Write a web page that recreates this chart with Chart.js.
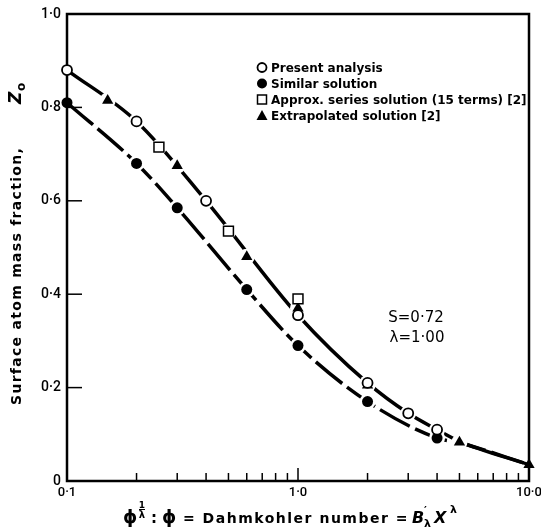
<!DOCTYPE html>
<html>
<head>
<meta charset="utf-8">
<script src="https://cdn.jsdelivr.net/npm/chart.js@4.4.0/dist/chart.umd.min.js"></script>
<style>
    html, body { margin: 0; padding: 0; background: #fff; }
</style>
</head>
<body>
<canvas id="grafico" width="541" height="530"></canvas>
<script>
// Datos
const present_x = [0.1, 0.2, 0.4, 1.0, 2.0, 3.0, 4.0];
const present_z = [0.88, 0.77, 0.60, 0.355, 0.21, 0.145, 0.11];

const similar_x = [0.1, 0.2, 0.3, 0.6, 1.0, 2.0, 4.0];
const similar_z = [0.81, 0.68, 0.585, 0.41, 0.29, 0.17, 0.092];

const series_x = [0.25, 0.5, 1.0];
const series_z = [0.715, 0.535, 0.39];

const extrap_x = [0.15, 0.3, 0.6, 1.0, 2.0, 5.0, 10.0];
const extrap_z = [0.815, 0.675, 0.48, 0.37, 0.205, 0.083, 0.035];

// curvas dibujadas
const upper_x = [0.1, 0.2, 0.4, 1.0, 2.0, 3.0, 4.0, 5.0, 10.0];
const upper_z = [0.88, 0.77, 0.60, 0.355, 0.21, 0.145, 0.11, 0.085, 0.035];
const lower_x = [0.1, 0.2, 0.3, 0.6, 1.0, 2.0, 4.0, 5.0, 10.0];
const lower_z = [0.81, 0.68, 0.585, 0.41, 0.29, 0.17, 0.092, 0.082, 0.035];

const x_tick_values = [0.1, 0.2, 0.3, 0.4, 0.5, 0.6, 0.7, 0.8, 0.9, 1, 2, 3, 4, 5, 6, 7, 8, 9, 10];
const x_tick_labels = ['0·1', '', '', '', '', '', '', '', '', '1·0', '', '', '', '', '', '', '', '', '10·0'];
const y_tick_labels = ['0', '0·2', '0·4', '0·6', '0·8', '1·0'];

const legend_labels = ['Present analysis', 'Similar solution', 'Approx. series solution (15 terms)', 'Extrapolated solution'];

const FUENTE = '"DejaVu Sans", sans-serif';
const FUENTE_EJES = 'Roboto, sans-serif';

function puntos(xs, zs) {
    return xs.map((x, i) => ({ x: x, y: zs[i] }));
}

// halos blancos para cortar la linea alrededor de los simbolos
let halo = [].concat(puntos(present_x, present_z), puntos(similar_x, similar_z),
    puntos(series_x, series_z), puntos(extrap_x, extrap_z)).filter(p => p.x > 0.1 && p.x < 10);

function linea(ctx, x1, y1, x2, y2) {
    ctx.beginPath();
    ctx.moveTo(x1, y1);
    ctx.lineTo(x2, y2);
    ctx.stroke();
}

function textoAjustado(ctx, t, x, y, font, ancho) {
    ctx.font = font;
    ctx.letterSpacing = '0px';
    let w = ctx.measureText(t).width;
    let extra = (ancho - w) / t.length;
    ctx.letterSpacing = extra + 'px';
    ctx.fillText(t, x, y);
    ctx.letterSpacing = '0px';
}

const marcoPlugin = {
    id: 'marco',
    beforeDatasetsDraw(chart) {
        const { ctx, chartArea: a, scales } = chart;
        ctx.save();
        ctx.strokeStyle = '#000';
        ctx.lineWidth = 2.5;
        ctx.strokeRect(a.left, a.top, a.right - a.left, a.bottom - a.top);
        ctx.lineWidth = 1.5;
        x_tick_values.forEach(v => {
            if (v <= 0.1 || v >= 10) return;
            let px = scales.x.getPixelForValue(v);
            let largo = (v === 1) ? 13 : 8;
            linea(ctx, px, a.bottom, px, a.bottom - largo);
        });
        [0.2, 0.4, 0.6, 0.8].forEach(v => {
            let py = scales.y.getPixelForValue(v);
            linea(ctx, a.left, py, a.left + 15, py);
        });
        ctx.restore();
    },
    afterDraw(chart) {
        const ctx = chart.ctx;
        ctx.save();
        ctx.fillStyle = '#000';
        ctx.strokeStyle = '#000';
        ctx.textBaseline = 'alphabetic';
        ctx.textAlign = 'left';

        // Leyenda
        let filas = [72, 88, 104, 120];
        let mx = 262, tx = 271;
        // circulo abierto
        ctx.lineWidth = 1.8;
        ctx.beginPath(); ctx.arc(mx, filas[0] - 4.5, 4.5, 0, Math.PI * 2); ctx.stroke();
        // circulo lleno
        ctx.beginPath(); ctx.arc(mx, filas[1] - 4.5, 5, 0, Math.PI * 2); ctx.fill();
        // cuadro
        ctx.lineWidth = 1.5;
        ctx.strokeRect(mx - 4.5, filas[2] - 9, 9, 9);
        // triangulo
        ctx.beginPath();
        ctx.moveTo(mx, filas[3] - 10); ctx.lineTo(mx + 5.5, filas[3]); ctx.lineTo(mx - 5.5, filas[3]);
        ctx.closePath(); ctx.fill();

        ctx.font = 'bold 12px ' + FUENTE;
        legend_labels.forEach((t, i) => {
            ctx.fillText(t, tx, filas[i]);
            if (i >= 2) {
                let w = ctx.measureText(t).width;
                ctx.fillText(' [2]', tx + w, filas[i]);
            }
        });

        // Parametros
        ctx.font = '15px ' + FUENTE;
        ctx.textAlign = 'center';
        ctx.fillText('S=0·72', 416, 322);
        ctx.fillText('λ=1·00', 417, 342);

        // Titulo eje x
        ctx.textAlign = 'left';
        let by = 523;
        ctx.font = 'bold 18px ' + FUENTE;
        ctx.fillText('ϕ', 123, by);
        ctx.font = 'bold 9px ' + FUENTE;
        ctx.textAlign = 'center';
        ctx.fillText('1', 142, by - 15);
        ctx.lineWidth = 1;
        linea(ctx, 139, by - 13.5, 145, by - 13.5);
        ctx.font = 'bold 10px ' + FUENTE;
        ctx.fillText('λ', 142, by - 5);
        ctx.textAlign = 'left';
        ctx.font = 'bold 15px ' + FUENTE;
        ctx.fillText(':', 151, by);
        ctx.font = 'bold 18px ' + FUENTE;
        ctx.fillText('ϕ', 162, by);
        textoAjustado(ctx, '= Dahmkohler number =', 183, by, 'bold 14px ' + FUENTE, 226);
        ctx.font = 'italic bold 16px ' + FUENTE;
        ctx.fillText('B', 412, by);
        ctx.font = 'bold 11px ' + FUENTE;
        ctx.fillText('′', 424, by - 9);
        ctx.fillText('λ', 424, by + 4);
        ctx.font = 'italic bold 16px ' + FUENTE;
        ctx.fillText('X', 434, by);
        ctx.font = 'bold 11px ' + FUENTE;
        ctx.fillText('λ', 450, by - 10);

        // Titulo eje y
        ctx.translate(21, 0);
        ctx.rotate(-Math.PI / 2);
        textoAjustado(ctx, 'Surface atom mass fraction,', -405, 0, 'bold 14px ' + FUENTE, 258);
        ctx.font = 'italic bold 17px ' + FUENTE;
        ctx.fillText('Z', -104, 0);
        ctx.font = 'bold 12px ' + FUENTE;
        ctx.fillText('o', -91, 4);
        ctx.restore();
    }
};

new Chart(document.getElementById('grafico'), {
    type: 'scatter',
    data: {
        datasets: [
            {
                label: legend_labels[0], data: puntos(present_x, present_z), order: 0,
                pointStyle: 'circle', pointRadius: 5, pointBackgroundColor: '#fff',
                pointBorderColor: '#000', pointBorderWidth: 1.8, clip: false
            },
            {
                label: legend_labels[1], data: puntos(similar_x, similar_z), order: 0,
                pointStyle: 'circle', pointRadius: 5.5, pointBackgroundColor: '#000',
                pointBorderColor: '#000', pointBorderWidth: 0, clip: false
            },
            {
                label: legend_labels[2], data: puntos(series_x, series_z), order: 0,
                pointStyle: 'rect', pointRadius: 7, pointBackgroundColor: '#fff',
                pointBorderColor: '#000', pointBorderWidth: 1.5, clip: false
            },
            {
                label: legend_labels[3], data: puntos(extrap_x, extrap_z), order: 0,
                pointStyle: 'triangle', pointRadius: 6.5, pointBackgroundColor: '#000',
                pointBorderColor: '#000', pointBorderWidth: 0, clip: false
            },
            {
                label: 'halo', data: halo, order: 1,
                pointRadius: 8, pointBackgroundColor: '#fff', pointBorderWidth: 0, clip: false
            },
            {
                label: 'upper', data: puntos(upper_x, upper_z), order: 2, showLine: true,
                borderColor: '#000', borderWidth: 3.5, pointRadius: 0,
                cubicInterpolationMode: 'monotone', clip: false
            },
            {
                label: 'lower', data: puntos(lower_x, lower_z), order: 2, showLine: true,
                borderColor: '#000', borderWidth: 3.5, pointRadius: 0, borderDash: [34, 6],
                cubicInterpolationMode: 'monotone', clip: false
            }
        ]
    },
    options: {
        responsive: false,
        animation: false,
        events: [],
        layout: { padding: { top: 14, right: 12, left: 0, bottom: 0 } },
        plugins: { legend: { display: false }, tooltip: { enabled: false } },
        scales: {
            x: {
                type: 'logarithmic', min: 0.1, max: 10,
                grid: { display: false, drawTicks: false },
                border: { display: false },
                afterBuildTicks: (s) => { s.ticks = x_tick_values.map(v => ({ value: v })); },
                afterFit: (s) => { s.height = 49; s.paddingLeft = 0; s.paddingRight = 0; },
                ticks: {
                    autoSkip: false, maxRotation: 0, padding: 4,
                    color: '#000', font: { family: FUENTE_EJES, size: 13, weight: '500' },
                    callback: (v, i) => x_tick_labels[i]
                }
            },
            y: {
                min: 0, max: 1,
                grid: { display: false, drawTicks: false },
                border: { display: false },
                afterFit: (s) => { s.width = 67; s.paddingTop = 0; s.paddingBottom = 0; },
                ticks: {
                    stepSize: 0.2, padding: 6,
                    color: '#000', font: { family: FUENTE_EJES, size: 14, weight: '500' },
                    callback: (v) => y_tick_labels[Math.round(v * 5)]
                }
            }
        }
    },
    plugins: [marcoPlugin]
});
</script>
</body>
</html>
